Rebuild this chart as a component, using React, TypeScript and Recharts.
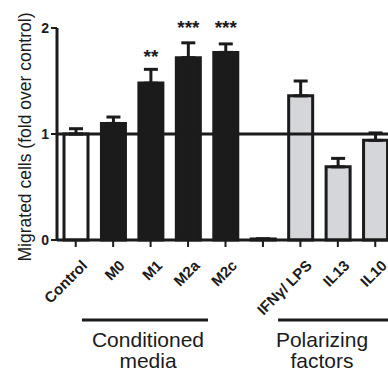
import React from "react";
import { ComposedChart, Bar, XAxis, YAxis, ReferenceLine, ErrorBar, Cell, LabelList } from "recharts";

const categories = ["Control", "M0", "M1", "M2a", "M2c", "", "IFNγ/ LPS", "IL13", "IL10"];
const means = [1.0, 1.1, 1.48, 1.72, 1.77, 0.01, 1.36, 0.69, 0.94];
const sems = [0.05, 0.06, 0.13, 0.14, 0.08, 0, 0.14, 0.08, 0.07];
const groups = ["control", "cm", "cm", "cm", "cm", "blank", "pf", "pf", "pf"];
const stars = ["", "", "**", "***", "***", "", "", "", ""];
const starLevels = [null, null, 1.77, 2.05, 2.05, null, null, null, null];
const yTicks = [0, 1, 2];

const INK = "#1b1b1b";
const FONT = "'Liberation Sans', Arial, Helvetica, sans-serif";
const fills: Record<string, string> = { control: "#ffffff", cm: INK, blank: INK, pf: "#d4d6d9" };

const data = categories.map((name, i) => ({
  name,
  idx: i,
  mean: means[i],
  err: [0, sems[i]],
}));

function StarLabel({ x, y, width, height, value }: any) {
  const i = value as number;
  const level = starLevels[i];
  if (level == null) return null;
  const ppu = height / means[i];
  const cy = y - (level - means[i]) * ppu;
  return (
    <text x={x + width / 2} y={cy + 11} textAnchor="middle" fontSize={19} fontWeight="bold" fontFamily={FONT} fill={INK}>
      {stars[i]}
    </text>
  );
}

export default function App() {
  return (
    <div style={{ position: "absolute", left: 0, top: 0, width: 388, height: 371, overflow: "hidden", background: "#fff" }}>
      <ComposedChart width={394} height={371} data={data} margin={{ top: 28, right: 0, bottom: 0, left: 0 }}>
        <XAxis
          dataKey="name"
          interval={0}
          height={131}
          angle={-45}
          textAnchor="end"
          dx={5}
          dy={10}
          tick={{ fontSize: 15, fontWeight: "bold", fill: INK, fontFamily: FONT }}
          tickSize={7}
          axisLine={{ stroke: INK, strokeWidth: 3 }}
          tickLine={{ stroke: INK, strokeWidth: 2 }}
        />
        <YAxis
          width={57}
          domain={[0, 2]}
          ticks={yTicks}
          tickSize={6}
          axisLine={{ stroke: INK, strokeWidth: 3 }}
          tickLine={{ stroke: INK, strokeWidth: 2 }}
          tick={{ fontSize: 14, fontWeight: "bold", fill: INK, fontFamily: FONT }}
        />
        <Bar dataKey="mean" barSize={24} stroke={INK} strokeWidth={3} isAnimationActive={false}>
          {data.map((d, i) => (
            <Cell key={i} fill={fills[groups[i]]} />
          ))}
          <ErrorBar dataKey="err" direction="y" width={7} stroke={INK} strokeWidth={3} />
          <LabelList dataKey="idx" content={<StarLabel />} />
        </Bar>
        <ReferenceLine y={1} stroke={INK} strokeWidth={3} />
      </ComposedChart>
      <svg width={388} height={371} style={{ position: "absolute", left: 0, top: 0, pointerEvents: "none" }}>
        <text
          transform="translate(31,137) rotate(-90)"
          textAnchor="middle"
          fontSize={17.5}
          fontFamily={FONT}
          fill={INK}
        >
          Migrated cells (fold over control)
        </text>
        <line x1={82} y1={320} x2={208} y2={320} stroke={INK} strokeWidth={3} />
        <line x1={278} y1={320} x2={404} y2={320} stroke={INK} strokeWidth={3} />
        <text x={148} y={347} textAnchor="middle" fontSize={21} fontFamily={FONT} fill={INK}>Conditioned</text>
        <text x={148} y={368} textAnchor="middle" fontSize={21} fontFamily={FONT} fill={INK}>media</text>
        <text x={322} y={347} textAnchor="middle" fontSize={21} fontFamily={FONT} fill={INK}>Polarizing</text>
        <text x={322} y={368} textAnchor="middle" fontSize={21} fontFamily={FONT} fill={INK}>factors</text>
      </svg>
    </div>
  );
}
